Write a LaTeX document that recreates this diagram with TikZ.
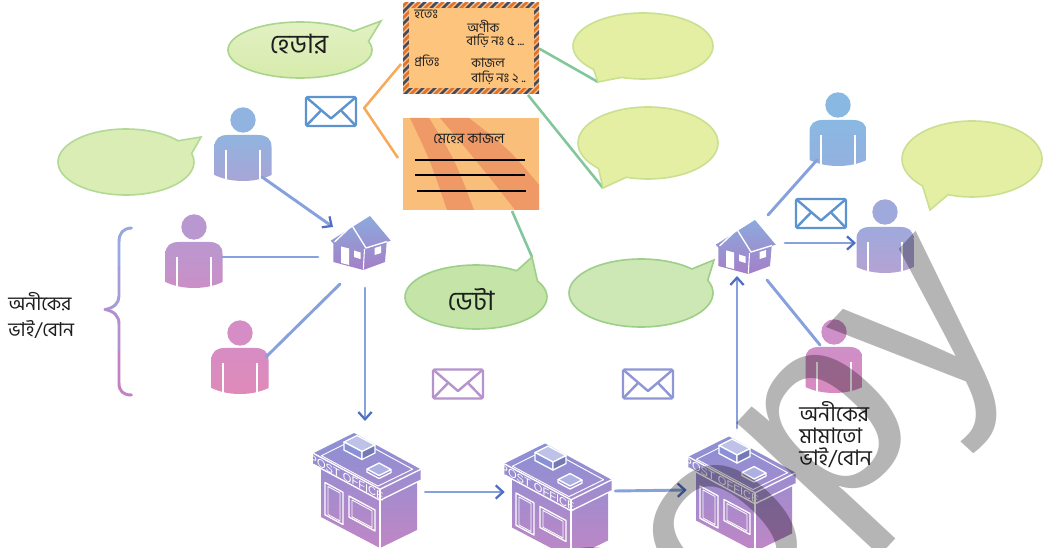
\documentclass[tikz,border=0pt]{standalone}
\usepackage{fontspec}
\newfontfamily\bn[Script=Bengali]{Hind Siliguri}
\newfontfamily\lsans{Liberation Sans}
\usetikzlibrary{arrows.meta,calc}

\definecolor{linkblue}{HTML}{86A1DC}
\definecolor{tipblue}{HTML}{4F6FC2}
\definecolor{orangeline}{HTML}{F6AA5A}
\definecolor{greenline}{HTML}{82C69C}
\definecolor{mailblue}{HTML}{5D93CF}
\definecolor{mailpink}{HTML}{B693CC}
\definecolor{mailviolet}{HTML}{8E96D4}
\definecolor{envfill}{HTML}{FDC47E}
\definecolor{envred}{HTML}{E4702E}
\definecolor{envnavy}{HTML}{3E4C66}
\definecolor{letterfill}{HTML}{F9BE7A}
\definecolor{letterband}{HTML}{EE9966}
\definecolor{pofill1}{HTML}{8A90D5}
\definecolor{pofill2}{HTML}{C086C5}
\definecolor{housetop}{HTML}{8CAADD}
\definecolor{housebot}{HTML}{A47FC8}
\definecolor{bracetop}{HTML}{9AA6DE}
\definecolor{bracebot}{HTML}{C383C2}
\definecolor{textdark}{HTML}{1E1E1E}
\definecolor{wmgrey}{HTML}{B5B5B5}
\definecolor{bubgreen}{HTML}{D6EBAA}
\definecolor{bubgreenline}{HTML}{A9D58C}
\definecolor{bubyellow}{HTML}{E5EFA3}
\definecolor{bubyellowline}{HTML}{C8E08F}
\definecolor{bubpale}{HTML}{D9EDB5}
\definecolor{bubpaleline}{HTML}{B2DA95}
\definecolor{bubdata}{HTML}{C4E4A8}
\definecolor{bubdataline}{HTML}{9ECF88}
\definecolor{pAtop}{HTML}{90B4DF}\definecolor{pAbot}{HTML}{A9A4D6}
\definecolor{pBtop}{HTML}{B998CF}\definecolor{pBbot}{HTML}{CB8FC6}
\definecolor{pCtop}{HTML}{D68CC4}\definecolor{pCbot}{HTML}{E08AB8}
\definecolor{pDtop}{HTML}{89B9E3}\definecolor{pDbot}{HTML}{94B0DE}
\definecolor{pEtop}{HTML}{9FA9DC}\definecolor{pEbot}{HTML}{B6A2D3}
\definecolor{pFtop}{HTML}{CF8FC8}\definecolor{pFbot}{HTML}{D88BBF}

% person icon: #1 name, #2/#3 head centre, #4/#5 top and bottom colour
\newcommand\person[5]{%
  \begin{scope}[shift={(#2,#3)}]
    \fill[#4] (0,0) circle[radius=12.7];
    \path[top color=#4, bottom color=#5]
      (-28.5,55) -- (-28.5,27) .. controls (-28.5,18.5) and (-23.5,15) .. (-15,15)
      -- (15,15) .. controls (23.5,15) and (28.5,18.5) .. (28.5,27) -- (28.5,55)
      .. controls (12,63) and (-12,63) .. cycle;
    \draw[white, line width=0.8pt] (-17,30) -- (-17,59.5) (17,30) -- (17,59.5);
    \node[hitbox, minimum width=42.75pt, minimum height=35.25pt] (#1) at (0,38.5) {};
  \end{scope}}

% house icon: #1 name, #2/#3 roof peak
\newcommand\house[3]{%
  \begin{scope}[shift={(#2,#3)}]
    \path[top color=housetop, bottom color=housebot]
      (-39.3,24.7) -- (0,0) -- (20.7,24.7) -- (16.7,26) -- (15,46) -- (-6.7,54)
      -- (-36.7,46) -- (-36.7,27.5) -- cycle;
    \draw[white, line width=1pt, line join=round] (-35.5,26) -- (-18,9.5) -- (-4,32) -- (17,25.5);
    \draw[white, line width=0.8pt] (-5.5,33) -- (-6.7,53.5);
    \fill[white] (-29,30.5) -- (-21,32.5) -- (-21,49) -- (-29,47) -- cycle;
    \fill[white] (-16,34.5) -- (-9.5,36.5) -- (-9.5,43) -- (-16,41) -- cycle;
    \fill[white] (4.5,32) -- (11,30) -- (11,37) -- (4.5,39) -- cycle;
    \node[hitbox, minimum width=45pt, minimum height=42pt] (#1) at (-9.5,26) {};
  \end{scope}}

% post office icon: #1 name, #2/#3 offset
\newcommand\postoffice[3]{%
  \begin{scope}[shift={(#2,#3)}]
    \path[top color=pofill1, bottom color=pofill2]
      (313.3,453.3) -- (354,433) -- (420.7,469.3) -- (420.7,480.3) -- (417,482.2)
      -- (417,530) -- (380,548) -- (321,517) -- (321,468.5) -- (313.3,464.3) -- cycle;
    \draw[poline] (313.3,453.3) -- (380,489.3) -- (420.7,469.3);
    \draw[poline] (313.3,464.3) -- (380,500.3) -- (420.7,480.3);
    \draw[poline] (380,489.3) -- (380,548);
    \draw[poline, line width=0.7pt] (321.4,455.7) -- (356,438.4) -- (412.6,469.2) -- (378,486.1) -- cycle;
    % box on the roof
    \filldraw[poline, fill=pofill1!55!white] (344,442) -- (357,435.5) -- (375,445) -- (362,451.5) -- cycle;
    \filldraw[poline, fill=pofill1] (344,442) -- (362,451.5) -- (362,459.5) -- (344,450) -- cycle;
    \filldraw[poline, fill=pofill1!85!black] (362,451.5) -- (375,445) -- (375,453) -- (362,459.5) -- cycle;
    % flat plate on the roof
    \filldraw[poline, fill=pofill1!70!white] (367,469) -- (379,463) -- (391,469.5) -- (379,475.5) -- cycle;
    \draw[poline] (367,469) -- (367,472) -- (379,478.5) -- (391,472.5) -- (391,469.5);
    % door and window
    \draw[poline] (325,482.5) -- (343,492.3) -- (343,524.5) -- (325,514.8) -- cycle;
    \draw[poline, line width=0.6pt] (328,486.5) -- (340,493) -- (340,521) -- (328,514.5) -- cycle;
    \draw[poline] (349,496) -- (375,510) -- (375,531) -- (349,517) -- cycle;
    \draw[poline, line width=0.6pt] (352,500) -- (372,510.8) -- (372,527.5) -- (352,516.8) -- cycle;
    \node[white, font=\lsans\fontsize{8.3}{8.3}\selectfont, yslant=-0.54, inner sep=0] at (346.6,477.5) {POST OFFICE};
    \node[hitbox, minimum width=81pt, minimum height=86.25pt] (#1) at (367,490.5) {};
  \end{scope}}

% small envelope icon: #1 name, #2/#3 centre, #4 colour
\newcommand\mailicon[4]{%
  \node[draw=#4, line width=1.8pt, fill=white, rounded corners=1.2pt, inner sep=0,
        minimum width=37.5pt, minimum height=21.75pt] (#1) at (#2,#3) {};
  \draw[#4, line width=1.8pt, line join=round]
    ([shift={(1.5,1.5)}]#1.north west) -- ([shift={(0,7)}]#1.center) -- ([shift={(-1.5,1.5)}]#1.north east);
  \draw[#4, line width=1.8pt]
    ([shift={(1.5,-1.5)}]#1.south west) -- ([shift={(-10,-1)}]#1.center)
    ([shift={(-1.5,-1.5)}]#1.south east) -- ([shift={(10,-1)}]#1.center);}

% speech bubble: #1 style, #2/#3 centre, #4/#5 radii, #6/#7 tail base angles, #8 tail tip
\newcommand\bubble[8]{%
  \path[#1] ([shift={(#6:#4 and #5)}]#2,#3) -- (#8)
    -- ([shift={(#7:#4 and #5)}]#2,#3)
    arc[start angle=#7, end angle={#6+360}, x radius=#4, y radius=#5] -- cycle;}

\begin{document}
\begin{tikzpicture}[x=0.75pt, y=-0.75pt,
  hitbox/.style={inner sep=0, outer sep=0, draw=none},
  link/.style={draw=linkblue, line width=2.2pt, line cap=round},
  arrowlink/.style={link, -{Straight Barb[length=5.5pt, width=10pt, line width=1.7pt, color=tipblue]}},
  orangelink/.style={draw=orangeline, line width=1.9pt, line join=round},
  greenlink/.style={draw=greenline, line width=1.9pt},
  poline/.style={draw=white, line width=1pt, line join=round},
  bubtext/.style={font=\bn\fontsize{20}{22}\selectfont, text=textdark, inner sep=0},
  envtext/.style={font=\bn\fontsize{9.8}{11}\selectfont, text=textdark, inner sep=0, anchor=west},
  label/.style={text=textdark, inner sep=0, anchor=west, align=left}]
\useasboundingbox (0,0) rectangle (1048,548);
\begin{scope}
\clip (0,0) rectangle (1048,548);
\fill[white] (0,0) rectangle (1048,548);

% boxes for the header envelope and the letter
\node[hitbox, minimum width=102pt, minimum height=68.25pt] (env) at (471,48.5) {};
\node[hitbox, minimum width=102pt, minimum height=69pt] (letter) at (471,164) {};
\mailicon{mail1}{331}{111.5}{mailblue}

% tail tips of the bubbles
\coordinate (hdrtip) at (381,21);
\coordinate (tr1tip) at (598,82);
\coordinate (tr2tip) at (603,188);
\coordinate (rrtip) at (930,210);
\coordinate (lftip) at (201,137);
\coordinate (datatip) at (532,257);
\coordinate (bmtip) at (714,260);

% callout lines
\draw[greenlink] (env.east) -- (tr1tip);
\draw[greenlink] ([shift={(-11,1)}]env.south east) -- (tr2tip);
\draw[greenlink] ([shift={(-27,1)}]letter.south east) -- (datatip);
\draw[orangelink] ([shift={(-2,15.5)}]env.west) -- ([shift={(7,-3.5)}]mail1.east) -- ([shift={(-5,-6)}]letter.west);

% speech bubbles
\bubble{top color=bubgreen!70!white, bottom color=bubgreen, draw=bubgreenline, line width=1.2pt}{300}{50}{72}{28}{-42}{-18}{hdrtip}
\bubble{fill=bubyellow, draw=bubyellowline, line width=1.2pt}{643}{46}{70}{33}{108}{135}{tr1tip}
\bubble{fill=bubyellow, draw=bubyellowline, line width=1.2pt}{648}{143}{70}{36}{108}{135}{tr2tip}
\bubble{fill=bubyellow, draw=bubyellowline, line width=1.2pt}{972}{159}{70}{38}{110}{135}{rrtip}
\bubble{fill=bubpale, draw=bubpaleline, line width=1.2pt}{126}{162}{68}{33}{-40}{-15}{lftip}
\bubble{fill=bubdata, draw=bubdataline, line width=1.2pt}{476}{297}{71}{32}{-55}{-30}{datatip}
\bubble{fill=bubdata!85!white, draw=bubdataline, line width=1.2pt}{641}{293}{72}{34}{-45}{-22}{bmtip}
\node[bubtext] (hdrtxt) at (299,44) {হেডার};
\node[bubtext] (datatxt) at (471,300) {ডেটা};

% airmail envelope carrying the header
\begin{scope}
  \clip (env.north west) rectangle (env.south east);
  \fill[envfill] (env.north west) rectangle (env.south east);
  \foreach \k in {0,...,21} {
    \draw[envred, line width=2pt] (297+12*\k,100) -- (397+12*\k,0);
    \draw[envnavy, line width=2pt] (303+12*\k,100) -- (403+12*\k,0);
  }
  \fill[envfill] ([shift={(5.5,5.5)}]env.north west) rectangle ([shift={(-5.5,-5.5)}]env.south east);
\end{scope}
\node[envtext] (fromlbl) at (414,14) {হতেঃ};
\node[envtext] (fromname) at (467,26) {অণীক};
\node[envtext] (fromaddr) at (466,41) {বাড়ি নঃ ৫ ...};
\node[envtext] (tolbl) at (414,61) {প্রতিঃ};
\node[envtext] (toname) at (471,63) {কাজল};
\node[envtext] (toaddr) at (471,78) {বাড়ি নঃ ২ ..};

% the letter (data)
\begin{scope}
  \clip (letter.north west) rectangle (letter.south east);
  \fill[letterfill] (letter.north west) rectangle (letter.south east);
  \fill[letterband] (410,118) .. controls (430,160) .. (447,210) -- (474,210) .. controls (455,160) .. (429,118) -- cycle;
  \fill[letterband] (440,118) .. controls (480,165) .. (515,210) -- (545,210) -- (545,192) .. controls (510,150) .. (469,118) -- cycle;
\end{scope}
\node[font=\bn\fontsize{10.8}{12}\selectfont, text=textdark, inner sep=0] (salute) at (469,138) {মেহের কাজল};
\draw[black, line width=0.9pt] (415,160) -- (525,160) (415,175) -- (525,175) (417,191) -- (526,191);

% brace grouping the siblings
\draw[bracetop, line width=2.2pt, line cap=round] (131.5,228) .. controls (123,228.5) and (119,233) .. (119,242) -- (119,268);
\draw[bracetop!70!bracebot, line width=2.2pt, line cap=round] (119,268) -- (119,296) .. controls (119,303) and (114,308) .. (105,309.5);
\draw[bracetop!35!bracebot, line width=2.2pt, line cap=round] (105,309.5) .. controls (114,311) and (119,316) .. (119,324) -- (119,352);
\draw[bracebot, line width=2.2pt, line cap=round] (119,352) -- (119,383) .. controls (119,391) and (123,395) .. (131.5,395);
\node[label, font=\bn\fontsize{14.5}{19.5}\selectfont] (siblings) at (8,315) {অনীকের\\ভাই/বোন};

% people, houses and post offices
\person{pA}{243}{120}{pAtop}{pAbot}
\person{pB}{194}{227}{pBtop}{pBbot}
\person{pC}{240}{333}{pCtop}{pCbot}
\person{pD}{838}{105}{pDtop}{pDbot}
\person{pE}{885}{212}{pEtop}{pEbot}
\person{pF}{834}{332}{pFtop}{pFbot}
\house{h1}{370}{216}
\house{h2}{755}{220}
\postoffice{po1}{0}{0}
\postoffice{po2}{191}{10.5}
\postoffice{po3}{375}{3.5}
\mailicon{mail2}{821}{213.5}{mailblue}
\mailicon{mail3}{458}{384}{mailpink}
\mailicon{mail4}{648}{384}{mailviolet}
\node[label, font=\bn\fontsize{16}{16.5}\selectfont] (cousins) at (799,435) {অনীকের\\মামাতো\\ভাই/বোন};

% connectors
\draw[arrowlink] ([shift={(-9.5,-5)}]pA.south east) -- ([shift={(2.5,13)}]h1.north west);
\draw[link] ([shift={(-0.5,-8.5)}]pB.east) -- ([shift={(-12.5,15)}]h1.west);
\draw[link] ([shift={(-2.5,9)}]pC.north east) -- ([shift={(9.5,14)}]h1.south west);
\draw[arrowlink] ([shift={(4.5,18)}]h1.south) -- ([shift={(-2,-12)}]po1.north);
\draw[arrowlink] ([shift={(4.3,1.5)}]po1.east) -- ([shift={(0.7,-9)}]po2.west);
\draw[arrowlink] ([shift={(3.3,-10)}]po2.east) -- ([shift={(-1.3,-4)}]po3.west);
\draw[arrowlink] ([shift={(-5,-8.5)}]po3.north) -- ([shift={(-8.5,2)}]h2.south);
\draw[link] ([shift={(-7.5,-3)}]h2.north east) -- ([shift={(7.5,-7)}]pD.south west);
\draw[arrowlink] ([shift={(9.5,-3)}]h2.east) -- ([shift={(-0.5,-7.5)}]pE.west);
\draw[link] ([shift={(-8.5,6)}]h2.south east) -- ([shift={(14.5,-2)}]pF.north west);

% stamp across the sheet
\begin{scope}[blend mode=multiply]
  \node[text=wmgrey, font=\lsans\fontsize{199}{199}\selectfont, rotate=47, anchor=base west, inner sep=0] (stamp) at (596,780) {Copy};
\end{scope}
\end{scope}
\end{tikzpicture}
\end{document}
